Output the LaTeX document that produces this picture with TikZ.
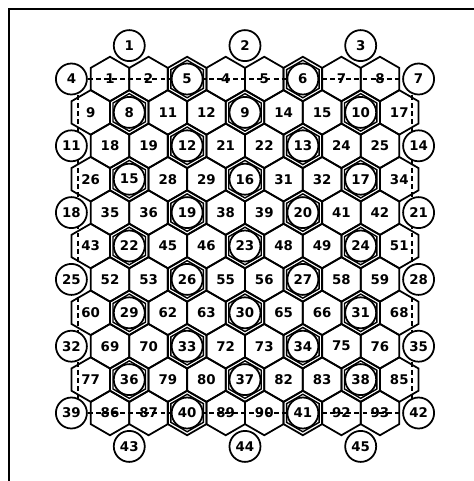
\documentclass[tikz,border=0pt]{standalone}
\usepackage{fontspec}
\setmainfont{DejaVu Sans}
\usetikzlibrary{shapes.geometric,backgrounds}

\begin{document}
\begin{tikzpicture}[
    x=0.02cm, y=-0.02cm,
    hexcell/.style={regular polygon, regular polygon sides=6, shape border rotate=30, draw=black, line width=1pt, minimum size=0.89cm, inner sep=0pt, font=\fontsize{7.6}{8}\selectfont\bfseries},
    innerhex/.style={regular polygon, regular polygon sides=6, shape border rotate=30, draw=black, line width=0.8pt, minimum size=0.75cm, inner sep=0pt},
    ring/.style={circle, draw=black, fill=white, line width=1pt, minimum size=0.62cm, inner sep=0pt, font=\fontsize{7.6}{8}\selectfont\bfseries},
    bound/.style={line width=1pt, dash pattern=on 2.8pt off 1.8pt},
]
\useasboundingbox (0,0) rectangle (474,481);
\draw[line width=1pt] (9,481) -- (9,9) -- (474,9);

% rows of 8 cells
\foreach \m in {0,...,5} {
  \foreach \j in {0,...,7} {
    \pgfmathtruncatemacro\n{1+17*\m+\j}
    \pgfmathtruncatemacro\isc{mod(\j,3)==2}
    \ifnum\isc=1
      \pgfmathtruncatemacro\cn{5+7*\m+(\j-2)/3}
      \node[hexcell] (h\n) at (110+38.57*\j,79+66.8*\m) {};
      \node[innerhex] at (h\n) {};
      \node[ring] (c\cn) at (h\n) {\cn};
    \else
      \node[hexcell] (h\n) at (110+38.57*\j,79+66.8*\m) {\n};
    \fi
  }
}

% rows of 9 cells
\foreach \m in {0,...,4} {
  \foreach \j in {0,...,8} {
    \pgfmathtruncatemacro\n{9+17*\m+\j}
    \pgfmathtruncatemacro\isc{mod(\j,3)==1}
    \ifnum\isc=1
      \pgfmathtruncatemacro\cn{8+7*\m+(\j-1)/3}
      \node[hexcell] (h\n) at (90.7+38.57*\j,112.4+66.8*\m) {};
      \node[innerhex] at (h\n) {};
      \node[ring] (c\cn) at (h\n) {\cn};
    \else
      \node[hexcell] (h\n) at (90.7+38.57*\j,112.4+66.8*\m) {\n};
    \fi
  }
}

% side circles
\foreach \m in {0,...,5} {
  \pgfmathtruncatemacro\cleft{4+7*\m}
  \pgfmathtruncatemacro\cright{7+7*\m}
  \node[ring] (c\cleft) at (71.4,79+66.8*\m) {\cleft};
  \node[ring] (c\cright) at (418.6,79+66.8*\m) {\cright};
}

% top and bottom circles
\foreach \j [count=\k] in {1,4,7} {
  \pgfmathtruncatemacro\cb{42+\k}
  \node[ring] (c\k) at (90.7+38.57*\j,45.6) {\k};
  \node[ring] (c\cb) at (90.7+38.57*\j,446.4) {\cb};
}

% dashed boundary
\begin{scope}[on background layer]
\draw[bound] (c4) -- (c7);
\draw[bound] (c39) -- (c42);
\draw[bound] ([xshift=0.13cm]c4.center) -- ([xshift=0.13cm]c39.center);
\draw[bound] ([xshift=-0.13cm]c7.center) -- ([xshift=-0.13cm]c42.center);
\end{scope}
\end{tikzpicture}
\end{document}
